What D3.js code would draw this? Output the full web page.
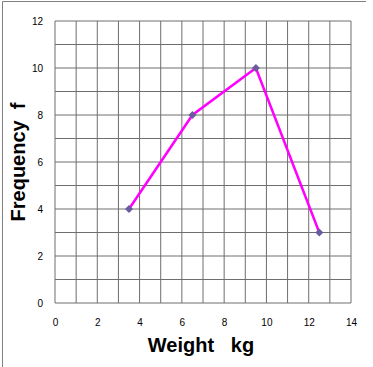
<!DOCTYPE html>
<html lang="en">
<head>
<meta charset="utf-8">
<title>Frequency polygon</title>
<script src="https://d3js.org/d3.v7.min.js"></script>
<style type="text/css">
body       { margin: 0; background: #fff; }
.grid line { stroke: #6e6e6e; stroke-width: 1; }
.tick text { font-family: "Liberation Sans", Arial, sans-serif; font-size: 10px; fill: #000; }
.title     { font-family: "Liberation Sans", Arial, sans-serif; font-size: 20px; font-weight: bold; }
</style>
</head>
<body>
<script type="text/javascript">

// data
var weights = [3.5, 6.5, 9.5, 12.5];
var freqs   = [4, 8, 10, 3];
var xTicks  = [0, 2, 4, 6, 8, 10, 12, 14];
var yTicks  = [0, 2, 4, 6, 8, 10, 12];

var W = 373, H = 367;
var plotL = 55, plotR = 351, plotT = 21, plotB = 303;

var svg = d3.select("body").append("svg")
    .attr("width", W)
    .attr("height", H);

// outer frame (left and top edges visible)
svg.append("line").attr("x1", 2.5).attr("y1", 1.5).attr("x2", 2.5).attr("y2", H)
    .attr("stroke", "#808080");
svg.append("line").attr("x1", 2.5).attr("y1", 1.5).attr("x2", 366).attr("y2", 1.5)
    .attr("stroke", "#808080");

var x = d3.scaleLinear().domain([0, 14]).range([plotL, plotR]);
var y = d3.scaleLinear().domain([0, 12]).range([plotB, plotT]);

// grid every 1 unit
var grid = svg.append("g").attr("class", "grid");
grid.selectAll(".v").data(d3.range(0, 15)).enter().append("line")
    .attr("x1", function(d) { return x(d); })
    .attr("x2", function(d) { return x(d); })
    .attr("y1", plotT).attr("y2", plotB);
grid.selectAll(".h").data(d3.range(0, 13)).enter().append("line")
    .attr("y1", function(d) { return y(d); })
    .attr("y2", function(d) { return y(d); })
    .attr("x1", plotL).attr("x2", plotR);

// axes (labels only)
var xAxis = svg.append("g")
    .attr("transform", "translate(0," + (plotB + 19) + ")")
    .call(d3.axisBottom(x).tickValues(xTicks).tickSize(0).tickPadding(0));
xAxis.select(".domain").remove();
xAxis.selectAll("text").attr("dy", "0.35em");

var yAxis = svg.append("g")
    .attr("transform", "translate(" + (plotL - 12) + ",0)")
    .call(d3.axisLeft(y).tickValues(yTicks).tickSize(0).tickPadding(0));
yAxis.select(".domain").remove();

// polygon line
var pts = weights.map(function(d, i) { return [d, freqs[i]]; });
svg.append("path")
    .datum(pts)
    .attr("fill", "none")
    .attr("stroke", "#ff00ff")
    .attr("stroke-width", 2.5)
    .attr("d", d3.line()
        .x(function(d) { return x(d[0]); })
        .y(function(d) { return y(d[1]); }));

// squat diamond markers
svg.selectAll(".pt").data(pts).enter().append("path")
    .attr("class", "pt")
    .attr("transform", function(d) { return "translate(" + x(d[0]) + "," + y(d[1]) + ") rotate(45)"; })
    .attr("d", d3.symbol().type(d3.symbolSquare).size(32))
    .attr("fill", "#6b5b9e");

// titles
svg.append("text").attr("class", "title")
    .attr("x", 201).attr("y", 352)
    .attr("text-anchor", "middle")
    .style("white-space", "pre")
    .text("Weight   kg");

svg.append("text").attr("class", "title")
    .attr("transform", "translate(25,162) rotate(-90)")
    .attr("text-anchor", "middle")
    .style("white-space", "pre")
    .text("Frequency  f");

</script>
</body>
</html>
